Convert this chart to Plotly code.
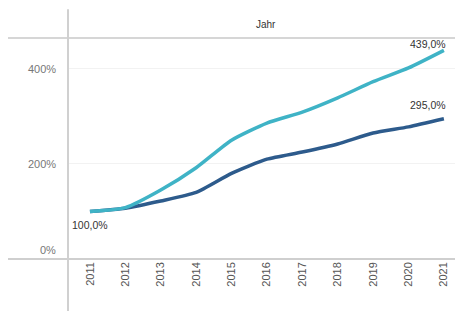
import plotly.graph_objects as go

years = [2011, 2012, 2013, 2014, 2015, 2016, 2017, 2018, 2019, 2020, 2021]
serie_hell = [100, 108, 145, 192, 250, 286, 309, 339, 373, 402, 439]
serie_dunkel = [100, 107, 122, 140, 180, 210, 225, 242, 265, 278, 295]
y_ticks = [0, 200, 400]
y_tick_labels = ["0%", "200%", "400%"]
header_title = "Jahr"

col_hell = "#3fb3c6"
col_dunkel = "#2d5b8c"
font_fam = "Liberation Sans, Arial, sans-serif"

fig = go.Figure()
fig.add_trace(go.Scatter(x=years, y=serie_dunkel, mode="lines",
                         line=dict(color=col_dunkel, width=3.5, shape="spline", smoothing=0.6),
                         hoverinfo="skip", showlegend=False))
fig.add_trace(go.Scatter(x=years, y=serie_hell, mode="lines",
                         line=dict(color=col_hell, width=3.5, shape="spline", smoothing=0.6),
                         hoverinfo="skip", showlegend=False))

def fmt(v):
    return f"{v:.1f}".replace(".", ",") + "%"

lab_font = dict(family=font_fam, size=10.5, color="#333333")
annotations = []
annotations.append(dict(x=years[0], y=serie_hell[0], text=fmt(serie_hell[0]), showarrow=False,
                        xanchor="center", yanchor="top", yshift=-6, font=lab_font))
annotations.append(dict(x=years[-1], y=serie_hell[-1], text=fmt(serie_hell[-1]), showarrow=False,
                        xanchor="right", yanchor="bottom", xshift=4, yshift=-2, font=lab_font))
annotations.append(dict(x=years[-1], y=serie_dunkel[-1], text=fmt(serie_dunkel[-1]), showarrow=False,
                        xanchor="right", yanchor="bottom", xshift=4, yshift=6, font=lab_font))
for v, t in zip(y_ticks, y_tick_labels):
    annotations.append(dict(x=0, xref="paper", y=v, text=t, showarrow=False,
                            xanchor="right", yanchor="bottom" if v == 0 else "middle",
                            xshift=-10, yshift=1 if v == 0 else 0,
                            font=dict(family=font_fam, size=11, color="#777777")))
annotations.append(dict(x=0.5, xref="paper", y=1.0, yref="paper", text=header_title,
                        showarrow=False, xanchor="center", yanchor="middle", yshift=14,
                        font=dict(family=font_fam, size=10, color="#333333")))

shapes = [
    dict(type="line", xref="paper", yref="paper", x0=-0.16, x1=1, y0=0, y1=0,
         line=dict(color="#cfcfcf", width=2)),
    dict(type="line", xref="paper", yref="paper", x0=-0.16, x1=1, y0=1, y1=1,
         line=dict(color="#d6d6d6", width=2)),
    dict(type="line", xref="paper", yref="paper", x0=0, x1=0, y0=-0.24, y1=1.13,
         line=dict(color="#d0d0d0", width=2)),
]

fig.update_layout(
    width=455, height=303,
    margin=dict(l=60, r=0, t=30, b=52),
    paper_bgcolor="white", plot_bgcolor="white",
    annotations=annotations, shapes=shapes,
    xaxis=dict(range=[2010.38, 2021.54], tickmode="array", tickvals=years,
               ticktext=[str(y) for y in years], tickangle=-90,
               tickfont=dict(family=font_fam, size=11, color="#555555"),
               showgrid=False, zeroline=False, showline=False, ticks="", ticklen=0),
    yaxis=dict(range=[0, 465], tickvals=y_ticks, showticklabels=False,
               showgrid=True, gridcolor="#f2f2f2", gridwidth=1,
               zeroline=False, showline=False, ticks=""),
)

fig.write_html("out.html")
